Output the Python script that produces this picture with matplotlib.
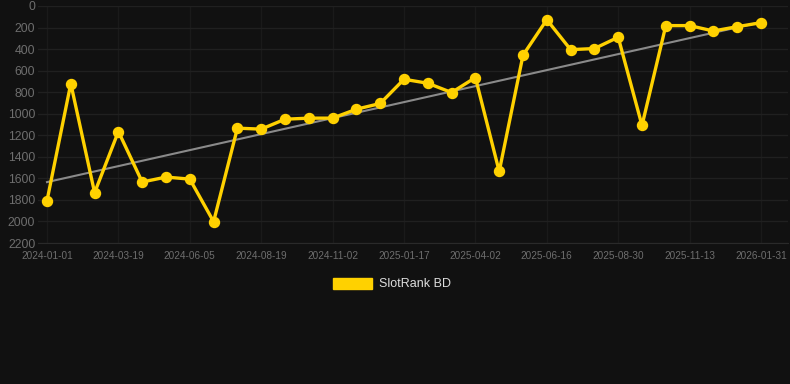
import matplotlib
matplotlib.use("Agg")
import matplotlib.pyplot as plt
import numpy as np

plt.rcParams["font.family"] = ["Liberation Sans", "DejaVu Sans"]

dates = ["2024-01-01", "2024-01-27", "2024-02-22", "2024-03-19", "2024-04-14",
         "2024-05-10", "2024-06-05", "2024-06-30", "2024-07-25", "2024-08-19",
         "2024-09-13", "2024-10-08", "2024-11-02", "2024-11-27", "2024-12-23",
         "2025-01-17", "2025-02-11", "2025-03-08", "2025-04-02", "2025-04-27",
         "2025-05-22", "2025-06-16", "2025-07-11", "2025-08-05", "2025-08-30",
         "2025-09-24", "2025-10-19", "2025-11-13", "2025-12-09", "2026-01-05",
         "2026-01-31"]
ranks = [1808, 720, 1733, 1165, 1634, 1588, 1607, 2002, 1134, 1143,
         1051, 1041, 1041, 958, 905, 680, 717, 803, 664, 1536,
         457, 127, 405, 395, 290, 1109, 182, 182, 232, 192, 155]
series_name = "SlotRank BD"
y_ticks = [0, 200, 400, 600, 800, 1000, 1200, 1400, 1600, 1800, 2000, 2200]

BG = "#111111"
YELLOW = "#FFD100"

W, H = 790, 384
fig = plt.figure(figsize=(W / 100, H / 100), dpi=100, facecolor=BG)
left_px, right_px, top_px, bot_px = 38, 788, 6, 243
ax = fig.add_axes([left_px / W, 1 - bot_px / H, (right_px - left_px) / W, (bot_px - top_px) / H])
ax.set_facecolor(BG)

x = np.arange(len(dates))
# trend line (least squares)
coef = np.polyfit(x, ranks, 1)
ax.plot(x, np.polyval(coef, x), color="#8a8a8a", lw=1.5, zorder=2)

ax.plot(x, ranks, color=YELLOW, lw=2.4, marker="o", markersize=7.2,
        markerfacecolor=YELLOW, markeredgecolor=YELLOW, zorder=3, label=series_name)

px_per = (761 - 47) / 30
ax.set_xlim(-(47 - left_px) / px_per, 30 + (right_px - 761) / px_per)
ax.set_ylim(2200, 0)
ax.set_yticks(y_ticks)
ax.set_yticklabels([str(v) for v in y_ticks])
tick_idx = list(range(0, len(dates), 3))
ax.set_xticks(tick_idx)
ax.set_xticklabels([dates[i] for i in tick_idx])

ax.yaxis.grid(True, color="#202020", lw=1)
ax.xaxis.grid(True, color="#1a1a1a", lw=1)
ax.set_axisbelow(True)
for s in ax.spines.values():
    s.set_visible(False)
ax.spines["bottom"].set_visible(True)
ax.spines["bottom"].set_color("#2a2a2a")
ax.tick_params(axis="y", length=0, pad=2, labelsize=8.8, labelcolor="#6e6e6e")
ax.tick_params(axis="x", length=0, pad=6, labelsize=7.2, labelcolor="#6e6e6e")

# legend
fig.patches.append(plt.Rectangle((333 / W, 1 - 289 / H), 39 / W, 11 / H,
                                 transform=fig.transFigure, facecolor=YELLOW,
                                 edgecolor=YELLOW, figure=fig))
fig.text(379 / W, 1 - 284 / H, series_name, color="#dddddd", fontsize=9,
         va="center", ha="left")

fig.savefig("out.png", dpi=100, facecolor=BG)
